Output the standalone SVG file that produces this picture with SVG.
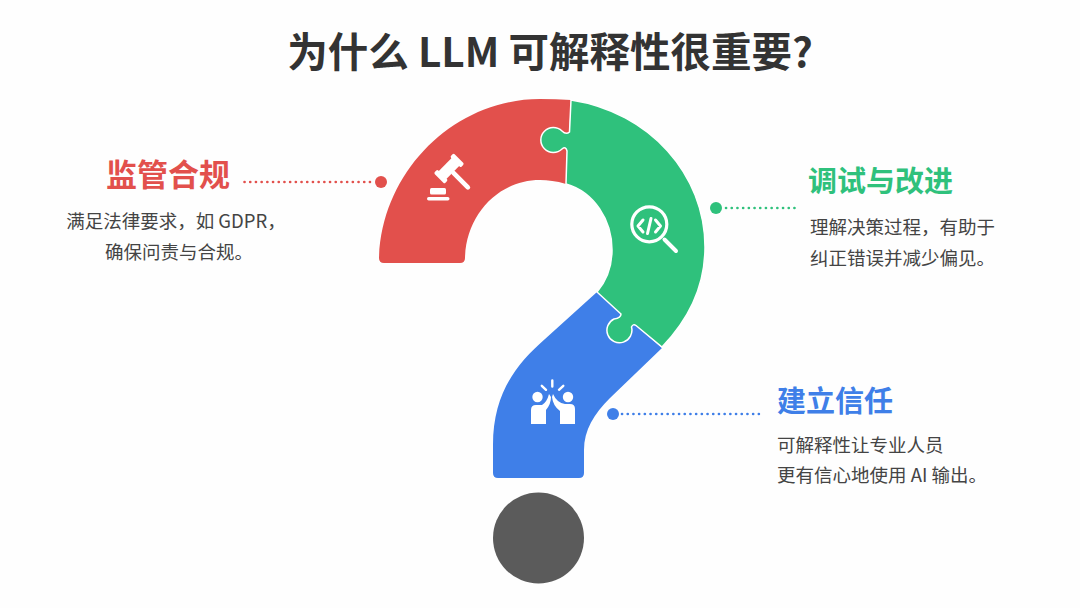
<svg xmlns="http://www.w3.org/2000/svg" width="1080" height="608" viewBox="0 0 1080 608">
<style>
text{font-family:"Noto Sans CJK SC","Noto Sans",sans-serif}
.title{font-size:40.500px;font-weight:700;fill:#333;text-anchor:middle}
.head{font-weight:700}
.body{font-size:18.500px;fill:#444}
.ic{fill:#fff;stroke:none}
.il{fill:none;stroke:#fff;stroke-linecap:round;stroke-linejoin:round}
.dot{fill:none;stroke-width:2.600;stroke-linecap:round;stroke-dasharray:.1 5.6}
.red{fill:#e2504c}.green{fill:#2fc17c}.blue{fill:#3f7fe8}
</style>
<rect width="1080" height="608" fill="#fefefe"/>
<text id="title" class="title" x="550" y="67">为什么 LLM 可解释性很重要?</text>
<g id="node-red">
<path class="red" d="M379 258C382 170 455 99 540 99Q556 99 571 100L566 184C556 181 548 180 540 180C498 180 466 215 465 258Q465 263 460 263H384Q379 263 379 258Z"/>
<g transform="translate(449 168.500) rotate(45)">
<rect class="ic" x="-5.500" y="-11" width="11" height="22"/>
<rect class="ic" x="-7.500" y="-14" width="15" height="5" rx="1.500"/>
<rect class="ic" x="-7.500" y="9" width="15" height="5" rx="1.500"/>
<rect class="ic" x="4" y="-2.300" width="25" height="4.600" rx="2.300"/>
</g>
<rect class="ic" x="430" y="188" width="16" height="6.500" rx="1.500"/>
<rect class="ic" x="427" y="197" width="22.500" height="3.400" rx="1.700"/>
</g>
<g id="node-blue">
<path class="blue" d="M597 292L662 348L610 398C594 414 584 430 584 450V473Q584 478 579 478H498Q493 478 493 473V445C493 395 515 365 545 339Z"/>
<circle class="ic" cx="537.500" cy="397" r="5.200"/>
<circle class="ic" cx="568" cy="397" r="5.200"/>
<path class="ic" d="M531 424V410Q531 405 536 405H542Q547 402 549 394L551 397Q551 404 546 410V424Z"/>
<path class="ic" d="M575 424V409Q575 404 570 404H565Q557 403 553 394L552 397Q553 406 560 411V424Z"/>
<path class="il" stroke-width="2.400" d="M552.300 380.500V386.500M541.800 385.800L546 389.800M563.300 385.800L559 389.800"/>
</g>
<g id="node-green">
<path class="green" stroke="#fff" stroke-width="1.500" d="M571 100C650 112 705 175 705 247C705 285 690 318 662 347L636 325.500Q633 323.500 631.500 327A12.500 12.500 0 1 1 614 319Q621 318 621 314L597 292C607 280 612 266 612 250C612 220 594 192 566 184L567 151Q566 146 562 149A12.500 12.500 0 1 1 562 131Q566 135 569.500 132Z"/>
<circle class="il" cx="649.300" cy="224.300" r="17.500" stroke-width="3.200"/>
<path class="il" stroke-width="4" d="M664.500 239.500L676 251"/>
<path class="il" stroke-width="3" d="M643 220L638 226L643 232M655.500 220L660.500 226L655.500 232M651 218.500L647.500 233.500"/>
</g>
<g id="node-dot"><circle cx="538.500" cy="538" r="45.500" fill="#5b5b5b"/></g>
<g id="connectors">
<path class="dot" stroke="#e2504c" d="M244.500 182H375"/>
<circle class="red" cx="381" cy="182" r="6"/>
<path class="dot" stroke="#2fc17c" d="M726 208H795"/>
<circle class="green" cx="716" cy="208" r="6"/>
<path class="dot" stroke="#3f7fe8" d="M622 414H762"/>
<circle class="blue" cx="613" cy="414" r="6"/>
</g>
<g id="label-red">
<text class="head" x="106" y="186" font-size="31" fill="#e2504c">监管合规</text>
<text class="body" x="176" y="228" text-anchor="middle">满足法律要求，如 GDPR，</text>
<text class="body" x="179" y="259" text-anchor="middle">确保问责与合规。</text>
</g>
<g id="label-green">
<text class="head" x="808" y="192" font-size="29" fill="#2fc17c">调试与改进</text>
<text class="body" x="810" y="234">理解决策过程，有助于</text>
<text class="body" x="810" y="265">纠正错误并减少偏见。</text>
</g>
<g id="label-blue">
<text class="head" x="777" y="412" font-size="29" fill="#3f7fe8">建立信任</text>
<text class="body" x="777" y="452">可解释性让专业人员</text>
<text class="body" x="777" y="482">更有信心地使用 AI 输出。</text>
</g>
</svg>
